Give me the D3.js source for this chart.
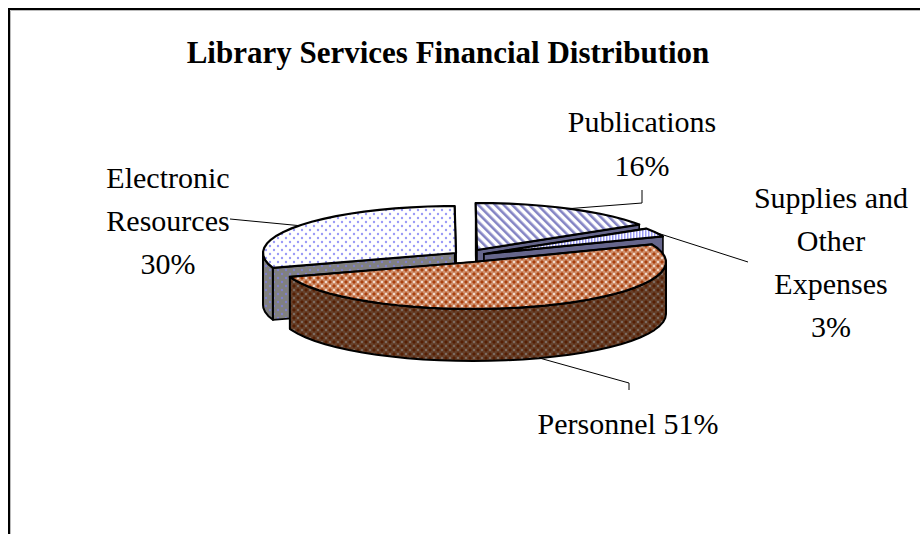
<!DOCTYPE html>
<html><head><meta charset="utf-8">
<script src="https://cdn.jsdelivr.net/npm/d3@7"></script>
<style>html,body{margin:0;padding:0;background:#fff}svg{display:block}text{font-family:"Liberation Serif","Times New Roman",serif;fill:#000}</style>
</head><body><div id="c"></div>
<script>
const titleText = "Library Services Financial Distribution";
const categories = ["Personnel","Electronic Resources","Publications","Supplies and Other Expenses"];
const values = [51,30,16,3];
const labelLines = [["Personnel 51%"],["Electronic","Resources","30%"],["Publications","16%"],["Supplies and","Other","Expenses","3%"]];

// layout (separate from the data)
const W=920,H=534,RX=193,RY=47,DEPTH=52;
const apexes=[[473,262],[456,253],[477,250],[484,254]];
const labelAnchors=[[628,434],[168,188],[642,132],[831,208]];
const lineGap=[0,43,44,43];
const leaderElbows=[[[629,383],[629,390]],[[230,219]],[[642,203],[642,190]],[[748,262]]];
const fills=["url(#pPersonnel)","url(#pElectronic)","url(#pPublications)","url(#pSupplies)"];
const sideFills=["url(#pPersonnelSide)","url(#pElectronicSide)","#66668c","#66668c"];
const paintOrder=[1,2,3,0];

const svg=d3.select("#c").append("svg").attr("width",W).attr("height",H);
const defs=svg.append("defs");
function pat(id,w,h,bg,tf){
  const p=defs.append("pattern").attr("id",id).attr("patternUnits","userSpaceOnUse").attr("width",w).attr("height",h);
  if(tf)p.attr("patternTransform",tf);
  p.append("rect").attr("width",w).attr("height",h).attr("fill",bg);
  return p;
}
function dots(p,c){[[2,2],[6,6]].forEach(d=>p.append("circle").attr("cx",d[0]).attr("cy",d[1]).attr("r",1.2).attr("fill",c));}
dots(pat("pElectronic",8,8,"#fff"),"#9a9af6");
dots(pat("pElectronicSide",8,8,"#808080"),"#7f7fcc");
pat("pPublications",6,6,"#fff","rotate(-45)").append("rect").attr("width",2.6).attr("height",6).attr("fill","#8484c4");
pat("pSupplies",3,3,"#fff").append("rect").attr("width",1.5).attr("height",3).attr("fill","#9c9cf4");
function weave(id,bg,c,hi){
  const p=pat(id,8,8,bg);
  [[0,0],[4,4]].forEach(o=>{
    p.append("rect").attr("x",o[0]+1).attr("y",o[1]+.5).attr("width",2).attr("height",3).attr("fill",c);
    p.append("rect").attr("x",o[0]+.5).attr("y",o[1]+1).attr("width",3).attr("height",2).attr("fill",c);
    p.append("rect").attr("x",(o[0]+4)%8+1).attr("y",o[1]+1).attr("width",2).attr("height",2).attr("fill",hi);
  });
}
weave("pPersonnel","#cf8f6c","#a8400e","#f0d8ca");
weave("pPersonnelSide","#66402a","#561f04","#7c6a60");

const pie=d3.pie().sort(null).startAngle(-22*Math.PI/180).endAngle(338*Math.PI/180);
const arcs=pie(values);
const sx=d3.scaleLinear().domain([-1,1]).range([-RX,RX]);
const sy=d3.scaleLinear().domain([-1,1]).range([-RY,RY]);
const proj=(i,t,d=0)=>[apexes[i][0]+sx(Math.cos(t)),apexes[i][1]+sy(Math.sin(t))+d];
const line=d3.line();
const STEP=5*Math.PI/180;
function ts(a,b){const r=d3.range(a,b,STEP);r.push(b);return r;}

function poly(pts,fill,sw){
  svg.append("path").attr("d",line(pts)+"Z").attr("fill",fill).attr("stroke","#000").attr("stroke-width",sw).attr("stroke-linejoin","round");
}
// frame
svg.append("path").attr("d","M9,534V9H920").attr("fill","none").attr("stroke","#000").attr("stroke-width",2);
svg.append("path").attr("d","M10.5,534V10.5H920").attr("fill","none").attr("stroke","#bbb").attr("stroke-width",1);

paintOrder.forEach(i=>{
  const a=arcs[i], s=a.startAngle, e=a.endAngle, ap=apexes[i];
  [s,e].forEach(t=>{
    const r=proj(i,t);
    poly([ap,r,[r[0],r[1]+DEPTH],[ap[0],ap[1]+DEPTH]],sideFills[i],1.6);
  });
  // visible outer side : front half of the rim only
  const lo=Math.max(s,0), hi=Math.min(e,Math.PI);
  if(lo<hi){
    const rim=ts(lo,hi);
    poly(rim.map(t=>proj(i,t)).concat(rim.slice().reverse().map(t=>proj(i,t,DEPTH))),sideFills[i],2);
  }
  poly([ap].concat(ts(s,e).map(t=>proj(i,t))),fills[i],2.2);
});

// leaders
arcs.forEach((a,i)=>{
  const m=(a.startAngle+a.endAngle)/2;
  const front=Math.sin(m)>0;
  const start=proj(i,m,front?DEPTH:0);
  svg.append("path").attr("d",line([start].concat(leaderElbows[i]))).attr("fill","none").attr("stroke","#000").attr("stroke-width",1);
});

// labels
labelLines.forEach((ls,i)=>ls.forEach((t,j)=>{
  svg.append("text").attr("x",labelAnchors[i][0]).attr("y",labelAnchors[i][1]+j*lineGap[i]).attr("text-anchor","middle").attr("font-size",30).text(t);
}));
svg.append("text").attr("x",448).attr("y",63).attr("text-anchor","middle").attr("font-size",31).attr("font-weight","bold").text(titleText);
</script></body></html>
